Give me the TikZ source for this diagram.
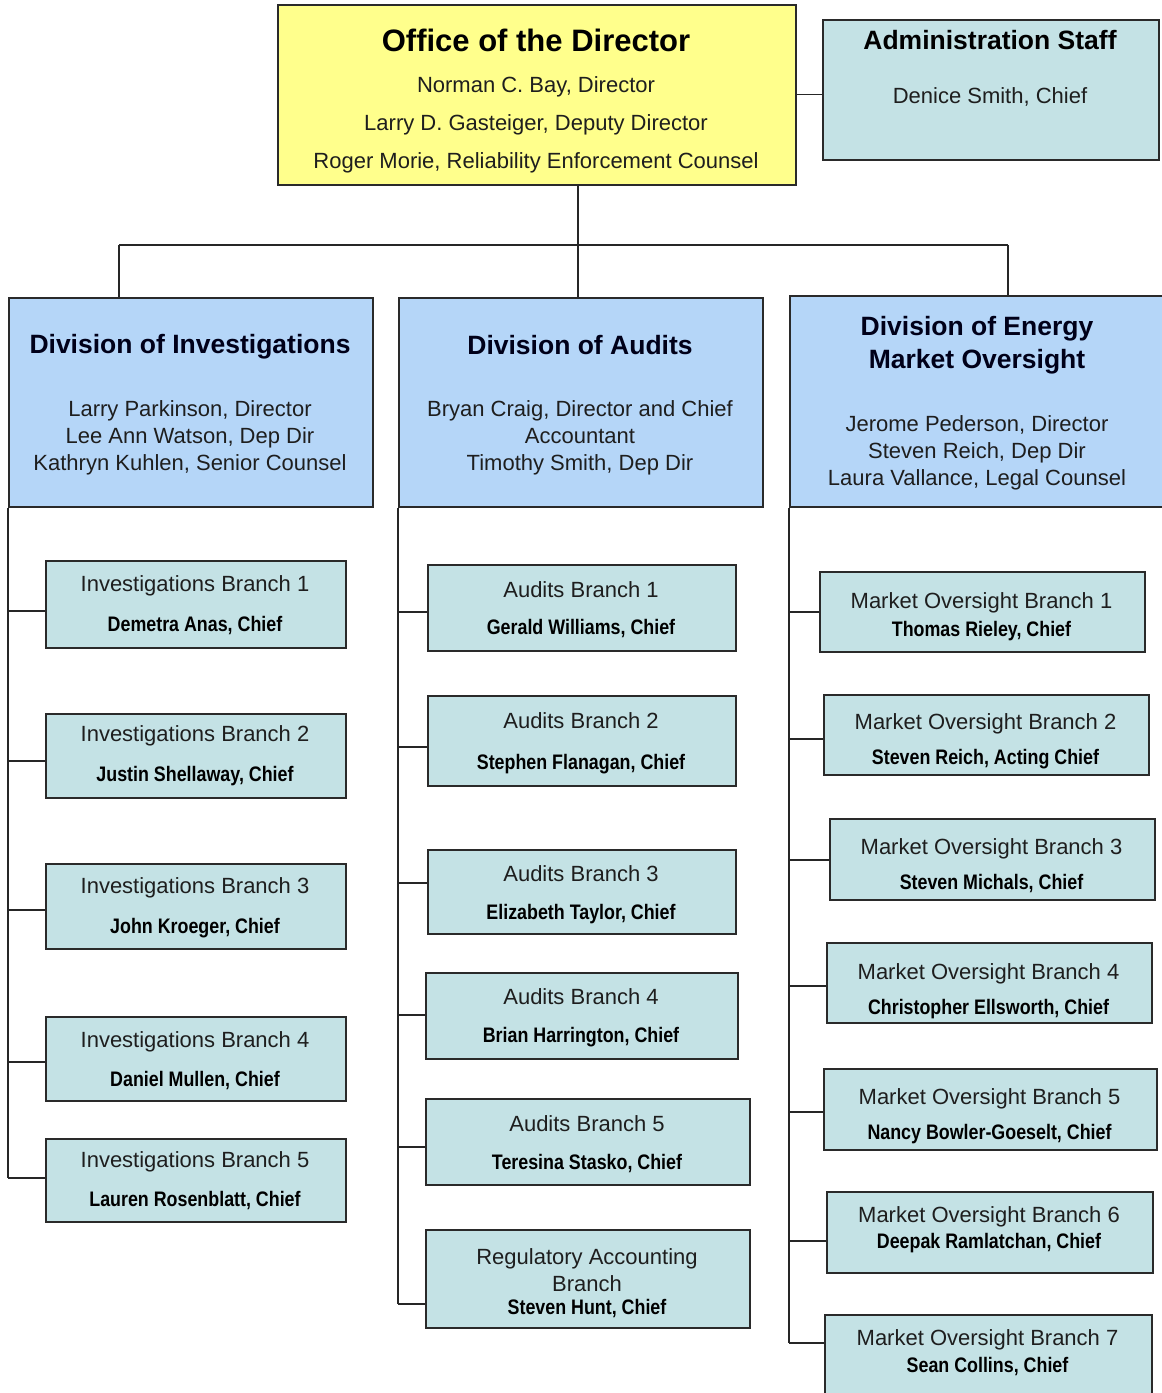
\documentclass[tikz,border=0pt]{standalone}
\usepackage{fontspec}
\setmainfont{Liberation Sans}
\newfontfamily\nbfont[FakeStretch=0.85]{Liberation Sans}
\definecolor{offyellow}{HTML}{FFFF8C}
\definecolor{divblue}{HTML}{B5D6F8}
\definecolor{brteal}{HTML}{C4E2E5}
\definecolor{edge}{HTML}{2A2A2A}
\definecolor{txt}{HTML}{1E1E1E}
\tikzset{
  boxbase/.style={draw=edge, line width=1.5pt, rectangle, inner sep=0pt, anchor=north west},
  offbox/.style={boxbase, fill=offyellow},
  divbox/.style={boxbase, fill=divblue},
  brbox/.style={boxbase, fill=brteal},
  ln/.style={draw=black!85, line width=1.4pt},
  tt/.style={text=txt, inner sep=0pt, yshift=-2pt, font=\fontsize{22}{27}\selectfont, align=center},
  nm/.style={text=black, inner sep=0pt, yshift=-1pt, font=\nbfont\bfseries\fontsize{21}{25}\selectfont, align=center},
  dtitle/.style={text=black!90!blue, inner sep=0pt, yshift=-1pt, font=\bfseries\fontsize{26.5}{33}\selectfont, align=center},
  otitle/.style={text=black, inner sep=0pt, font=\bfseries\fontsize{31}{36}\selectfont, align=center},
}
% box: style, name, x1, y1, x2, y2
\newcommand\mkbox[6]{\node[#1, minimum width={(#5-#3)*1pt}, minimum height={(#6-#4)*1pt}] (#2) at (#3,#4) {};}
% branch: name x1 y1 x2 y2 title chief titley chiefy
\newcommand\branch[9]{%
  \mkbox{brbox}{#1}{#2}{#3}{#4}{#5}
  \node[tt] (#1-t) at ({(#2+#4)/2},#8) {#6};
  \node[nm] (#1-n) at ({(#2+#4)/2},#9) {#7};
}
% connector from division spine to branch at height y
\newcommand\conn[3]{\draw[ln] (#1.south west |- 0,#3) -- (#2.west |- 0,#3);}
\begin{document}
\begin{tikzpicture}[x=1pt,y=-1pt]
\useasboundingbox (0,0) rectangle (1162,1393);
\fill[white] (0,0) rectangle (1162,1393);

% top level
\mkbox{offbox}{office}{277}{4}{795}{184}
\node[otitle] (office-t) at (536,40) {Office of the Director};
\node[tt, font=\fontsize{22}{38}\selectfont] (office-b) at (536,123) {Norman C. Bay, Director\\Larry D. Gasteiger, Deputy Director\\Roger Morie, Reliability Enforcement Counsel};

\mkbox{brbox}{admin}{822}{19}{1158}{159}
\node[dtitle, text=black] (admin-t) at (990,39) {Administration Staff};
\node[tt] (admin-b) at (990,95) {Denice Smith, Chief};

% divisions
\mkbox{divbox}{inv}{8}{297}{372}{506}
\node[dtitle] (inv-t) at (190,346) {Division of Investigations};
\node[tt] (inv-b) at (190,436) {Larry Parkinson, Director\\Lee Ann Watson, Dep Dir\\Kathryn Kuhlen, Senior Counsel};

\mkbox{divbox}{aud}{398}{297}{762}{506}
\node[dtitle] (aud-t) at (580,344) {Division of Audits};
\node[tt] (aud-b) at (580,436) {Bryan Craig, Director and Chief\\Accountant\\Timothy Smith, Dep Dir};

\mkbox{divbox}{demo}{789}{295}{1166}{506}
\node[dtitle] (demo-t) at (977,344) {Division of Energy\\Market Oversight};
\node[tt] (demo-b) at (977,451) {Jerome Pederson, Director\\Steven Reich, Dep Dir\\Laura Vallance, Legal Counsel};

% top connectors
\coordinate (hl) at (119,245);
\coordinate (hr) at (1008,245);
\draw[ln] (office.east) -- (office.east -| admin.west);
\draw[ln] (office.south -| 578,0) -- (aud.north -| 578,0);
\draw[ln] (hl) -- (hr);
\draw[ln] (hl) -- (hl |- inv.north);
\draw[ln] (hr) -- (hr |- demo.north);

% investigations branches
\branch{ib1}{45}{560}{345}{647}{Investigations Branch 1}{Demetra Anas, Chief}{584}{625}
\branch{ib2}{45}{713}{345}{797}{Investigations Branch 2}{Justin Shellaway, Chief}{734}{775}
\branch{ib3}{45}{863}{345}{948}{Investigations Branch 3}{John Kroeger, Chief}{886}{927}
\branch{ib4}{45}{1016}{345}{1100}{Investigations Branch 4}{Daniel Mullen, Chief}{1040}{1080}
\branch{ib5}{45}{1138}{345}{1221}{Investigations Branch 5}{Lauren Rosenblatt, Chief}{1160}{1200}

% audits branches
\branch{ab1}{427}{564}{735}{650}{Audits Branch 1}{Gerald Williams, Chief}{588}{628}
\branch{ab2}{427}{695}{735}{785}{Audits Branch 2}{Stephen Flanagan, Chief}{719}{763}
\branch{ab3}{427}{849}{735}{933}{Audits Branch 3}{Elizabeth Taylor, Chief}{872}{913}
\branch{ab4}{425}{972}{737}{1058}{Audits Branch 4}{Brian Harrington, Chief}{995}{1036}
\branch{ab5}{425}{1098}{749}{1184}{Audits Branch 5}{Teresina Stasko, Chief}{1122}{1163}
\mkbox{brbox}{reg}{425}{1229}{749}{1327}
\node[tt] (reg-t) at (587,1268) {Regulatory Accounting\\Branch};
\node[nm] (reg-n) at (587,1308) {Steven Hunt, Chief};

% market oversight branches
\branch{mb1}{819}{571}{1144}{651}{Market Oversight Branch 1}{Thomas Rieley, Chief}{601}{630}
\branch{mb2}{823}{694}{1148}{774}{Market Oversight Branch 2}{Steven Reich, Acting Chief}{722}{758}
\branch{mb3}{829}{818}{1154}{899}{Market Oversight Branch 3}{Steven Michals, Chief}{847}{883}
\branch{mb4}{826}{942}{1151}{1022}{Market Oversight Branch 4}{Christopher Ellsworth, Chief}{972}{1008}
\branch{mb5}{823}{1068}{1156}{1149}{Market Oversight Branch 5}{Nancy Bowler-Goeselt, Chief}{1097}{1133}
\branch{mb6}{826}{1191}{1152}{1272}{Market Oversight Branch 6}{Deepak Ramlatchan, Chief}{1215}{1242}
\branch{mb7}{824}{1314}{1151}{1402}{Market Oversight Branch 7}{Sean Collins, Chief}{1338}{1365}

% spines
\draw[ln] (inv.south west) -- (inv.south west |- 0,1178);
\draw[ln] (aud.south west) -- (aud.south west |- 0,1304);
\draw[ln] (demo.south west) -- (demo.south west |- 0,1343);

\conn{inv}{ib1}{611}
\conn{inv}{ib2}{761}
\conn{inv}{ib3}{910}
\conn{inv}{ib4}{1062}
\conn{inv}{ib5}{1178}

\conn{aud}{ab1}{612}
\conn{aud}{ab2}{747}
\conn{aud}{ab3}{883}
\conn{aud}{ab4}{1015}
\conn{aud}{ab5}{1147}
\conn{aud}{reg}{1304}

\conn{demo}{mb1}{612}
\conn{demo}{mb2}{739}
\conn{demo}{mb3}{860}
\conn{demo}{mb4}{986}
\conn{demo}{mb5}{1112}
\conn{demo}{mb6}{1241}
\conn{demo}{mb7}{1343}
\end{tikzpicture}
\end{document}
